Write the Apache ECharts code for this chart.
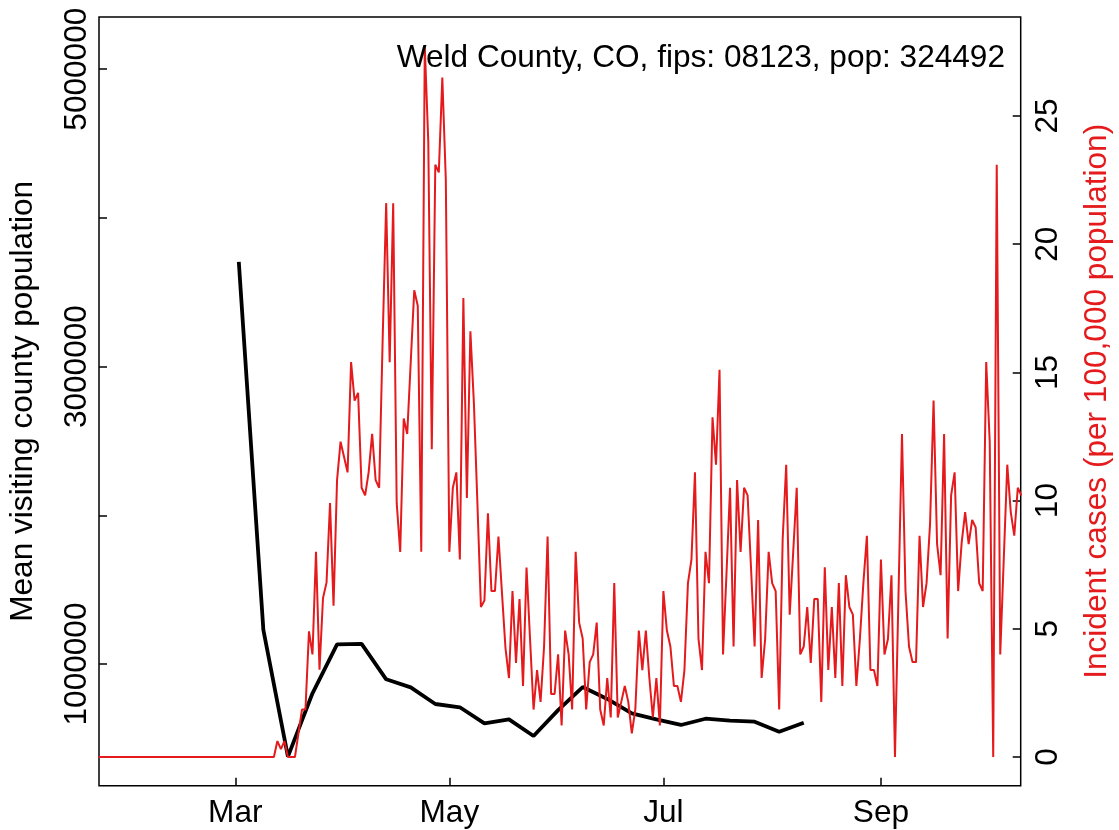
<!DOCTYPE html>
<html><head><meta charset="utf-8">
<script src="https://cdn.jsdelivr.net/npm/echarts@6/dist/echarts.min.js"></script>
<style>html,body{margin:0;padding:0;background:#fff}#c{width:1119px;height:830px}</style>
</head><body><div id="c"></div>
<script>
// ---- data ----
const redStart = '2020-01-22';           // first day of the daily incident-case series
const redValues = [
  0,0,0,0,0,0,0,0,0,0, 0,0,0,0,0,0,0,0,0,0, 0,0,0,0,0,0,0,0,0,0,
  0,0,0,0,0,0,0,0,0,0, 0,0,0,0,0,0,0,0,0,0, 0,
  0.62,0.31,0.62,0,0,0,0.92,1.85,1.85,
  4.9,4.0,8.0,3.4,6.2,6.8,9.9,5.9,10.8,12.3,
  11.7,11.1,15.4,13.9,14.2,10.5,10.2,11.1,12.6,10.8,
  10.5,16.3,21.6,15.4,21.6,9.9,8.0,13.2,12.6,15.4,
  18.2,17.6,8.0,27.74,24.0,12.0,23.1,22.8,26.5,22.5,
  8.0,10.5,11.1,7.7,17.9,10.1,16.6,13.8,9.9,5.85,
  6.1,9.5,6.47,6.47,8.6,6.4,4.25,3.08,6.47,3.67,
  6.16,2.77,7.39,4.6,1.85,3.39,2.15,4.31,8.6,2.46,
  2.46,4.0,1.23,4.93,4.0,1.85,8.0,5.24,4.62,1.85,
  3.7,4.0,5.24,1.85,1.23,3.08,1.54,6.78,1.54,2.15,
  2.77,2.15,0.92,1.85,4.93,3.39,4.93,3.08,1.54,3.08,
  1.23,6.47,4.93,4.31,2.77,2.77,2.15,3.39,6.78,7.7,
  11.1,4.62,3.39,8.0,6.78,13.25,11.4,15.1,4.0,7.2,
  10.5,4.31,10.8,8.0,10.5,10.2,7.3,4.31,9.24,3.08,
  4.6,8.0,6.78,6.47,1.85,8.5,11.4,5.55,8.0,10.5,
  4.0,4.31,5.85,3.67,6.16,6.16,2.15,7.4,3.39,5.85,
  3.08,6.78,2.77,7.09,5.85,5.55,2.77,4.6,6.8,8.63,
  3.39,3.39,2.77,7.7,4.0,4.6,7.09,0,6.3,12.6,
  6.47,4.31,3.7,3.7,8.63,5.85,6.78,9.1,13.9,8.3,
  7.09,12.6,4.62,10.2,11.1,6.47,8.35,9.55,8.3,9.25,
  8.95,6.78,6.47,15.4,12.3,0,23.1,4.0,7.7,11.4,
  9.55,8.63,10.5,10.2
];
const blackStart = '2020-03-02';         // first week of the weekly visiting-population series
const blackValues = [
  3705000,1229000,377000,803000,1132000,1135000,897000,843000,731000,709000,
  601000,628000,516000,690000,845000,765000,668000,628000,590000,632000,
  619000,612000,545000,605000
];
const xTickDates = ['2020-03-01','2020-05-01','2020-07-01','2020-09-01'];
const xTickLabels = ['Mar','May','Jul','Sep'];
const leftTicks = [1000000,2000000,3000000,4000000,5000000];
const leftLabels = [1000000,3000000,5000000];
const rightTicks = [0,5,10,15,20,25];
const titleText = 'Weld County, CO, fips: 08123, pop: 324492';
const leftName = 'Mean visiting county population';
const rightName = 'Incident cases (per 100,000 population)';

// ---- build ----
const DAY = 86400000;
const ts = s => { const p = s.split('-').map(Number); return Date.UTC(p[0], p[1]-1, p[2]); };
const redData = redValues.map((v,i) => [ts(redStart) + i*DAY, v]);
const blackData = blackValues.map((v,i) => [ts(blackStart) + i*7*DAY, v]);
const xTicks = xTickDates.map(ts);
const xMin = ts(redStart) + 0.16*DAY;
const xMax = ts(redStart) + 262.83*DAY;

const FONT = 'Liberation Sans';
const FS = 31.6;
const RED = '#E41A1C';

const chart = echarts.init(document.getElementById('c'), null, {renderer:'canvas'});
chart.setOption({
  animation:false,
  backgroundColor:'#fff',
  grid:{left:99, top:17, width:921.7, height:768.7, containLabel:false, outerBoundsMode:'none',
        show:true, borderColor:'#000', borderWidth:1.5, backgroundColor:'transparent'},
  xAxis:{
    type:'value', min:xMin, max:xMax,
    axisLine:{show:false, onZero:false}, splitLine:{show:false},
    axisTick:{show:true, inside:true, length:8, lineStyle:{color:'#000', width:1.5}, customValues:xTicks},
    axisLabel:{customValues:xTicks, margin:12, color:'#000', fontSize:FS, fontFamily:FONT,
      formatter: v => xTickLabels[xTicks.indexOf(v)] || ''}
  },
  yAxis:[{
    type:'value', position:'left', min:181600, max:5351000,
    axisLine:{show:false, onZero:false}, splitLine:{show:false},
    axisTick:{show:true, inside:true, length:8, lineStyle:{color:'#000', width:1.5}, customValues:leftTicks},
    axisLabel:{customValues:leftLabels, rotate:90, margin:6, color:'#000', fontSize:FS, fontFamily:FONT, formatter: v => String(v)},
    name:leftName, nameLocation:'middle', nameRotate:90, nameGap:60,
    nameTextStyle:{color:'#000', fontSize:FS, fontFamily:FONT}
  },{
    type:'value', position:'right', min:-1.12, max:28.86,
    axisLine:{show:false, onZero:false}, splitLine:{show:false},
    axisTick:{show:true, inside:true, length:8, lineStyle:{color:'#000', width:1.5}, customValues:rightTicks},
    axisLabel:{customValues:rightTicks, rotate:90, margin:12, color:'#000', fontSize:FS, fontFamily:FONT, formatter: v => String(v)},
    name:rightName, nameLocation:'middle', nameRotate:90, nameGap:61,
    nameTextStyle:{color:RED, fontSize:FS, fontFamily:FONT}
  }],
  graphic:[{
    type:'text', right:114, top:42, z:100,
    style:{text:titleText, fill:'#000', font: FS + 'px "' + FONT + '"'}
  }],
  series:[{
    type:'line', name:'visiting', yAxisIndex:0, data:blackData, showSymbol:false, symbol:'none',
    lineStyle:{color:'#000', width:3.8}, itemStyle:{color:'#000'}, z:2, clip:true
  },{
    type:'line', name:'cases', yAxisIndex:1, data:redData, showSymbol:false, symbol:'none',
    lineStyle:{color:RED, width:2}, itemStyle:{color:RED}, z:3, clip:true
  }]
});
</script></body></html>
